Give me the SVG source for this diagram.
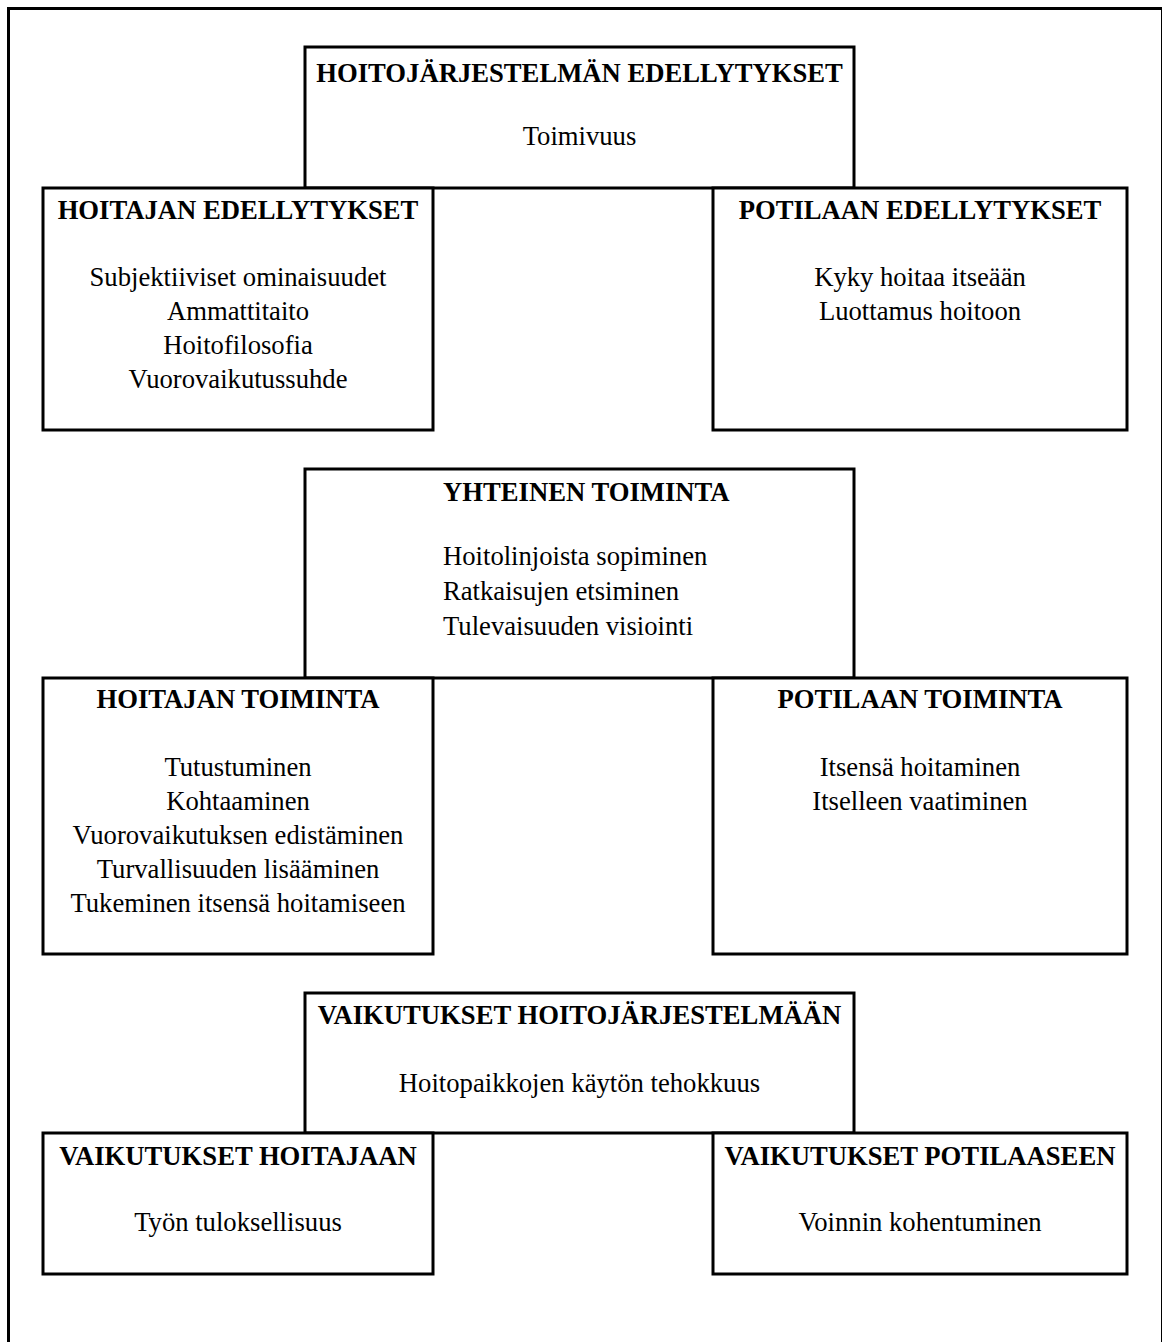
<svg xmlns="http://www.w3.org/2000/svg" width="1162" height="1342" viewBox="0 0 1162 1342">
<style>
.box{fill:#fff;stroke:#000;stroke-width:3}
.frame{fill:none;stroke:#000;stroke-width:3}
text{font-family:"Liberation Serif","Times New Roman",serif;font-size:26.67px;fill:#000;text-anchor:middle}
.t{font-weight:bold}
.l{text-anchor:start}
</style>
<rect width="1162" height="1342" fill="#fff"/>
<rect class="frame" x="8.5" y="8.5" width="1154" height="1400"/>
<g id="connectors"/>
<g id="hoitojarjestelman-edellytykset">
<rect class="box" x="305" y="47" width="549" height="141"/>
<text class="t" x="579.5" y="82">HOITOJÄRJESTELMÄN EDELLYTYKSET</text>
<text x="579.5" y="145">Toimivuus</text>
</g>
<g id="hoitajan-edellytykset">
<rect class="box" x="43" y="188" width="390" height="242"/>
<text class="t" x="238" y="219">HOITAJAN EDELLYTYKSET</text>
<text x="238" y="286">Subjektiiviset ominaisuudet</text>
<text x="238" y="320">Ammattitaito</text>
<text x="238" y="354">Hoitofilosofia</text>
<text x="238" y="388">Vuorovaikutussuhde</text>
</g>
<g id="potilaan-edellytykset">
<rect class="box" x="713" y="188" width="414" height="242"/>
<text class="t" x="920" y="219">POTILAAN EDELLYTYKSET</text>
<text x="920" y="286">Kyky hoitaa itseään</text>
<text x="920" y="320">Luottamus hoitoon</text>
</g>
<g id="yhteinen-toiminta">
<rect class="box" x="305" y="469" width="549" height="209"/>
<text class="t l" x="443" y="501">YHTEINEN TOIMINTA</text>
<text class="l" x="443" y="565">Hoitolinjoista sopiminen</text>
<text class="l" x="443" y="600">Ratkaisujen etsiminen</text>
<text class="l" x="443" y="635">Tulevaisuuden visiointi</text>
</g>
<g id="hoitajan-toiminta">
<rect class="box" x="43" y="678" width="390" height="276"/>
<text class="t" x="238" y="708">HOITAJAN TOIMINTA</text>
<text x="238" y="776">Tutustuminen</text>
<text x="238" y="810">Kohtaaminen</text>
<text x="238" y="844">Vuorovaikutuksen edistäminen</text>
<text x="238" y="878">Turvallisuuden lisääminen</text>
<text x="238" y="912">Tukeminen itsensä hoitamiseen</text>
</g>
<g id="potilaan-toiminta">
<rect class="box" x="713" y="678" width="414" height="276"/>
<text class="t" x="920" y="708">POTILAAN TOIMINTA</text>
<text x="920" y="776">Itsensä hoitaminen</text>
<text x="920" y="810">Itselleen vaatiminen</text>
</g>
<g id="vaikutukset-hoitojarjestelmaan">
<rect class="box" x="305" y="993" width="549" height="140"/>
<text class="t" x="579.5" y="1024">VAIKUTUKSET HOITOJÄRJESTELMÄÄN</text>
<text x="579.5" y="1092">Hoitopaikkojen käytön tehokkuus</text>
</g>
<g id="vaikutukset-hoitajaan">
<rect class="box" x="43" y="1133" width="390" height="141"/>
<text class="t" x="238" y="1165">VAIKUTUKSET HOITAJAAN</text>
<text x="238" y="1231">Työn tuloksellisuus</text>
</g>
<g id="vaikutukset-potilaaseen">
<rect class="box" x="713" y="1133" width="414" height="141"/>
<text class="t" x="920" y="1165">VAIKUTUKSET POTILAASEEN</text>
<text x="920" y="1231">Voinnin kohentuminen</text>
</g>
</svg>
